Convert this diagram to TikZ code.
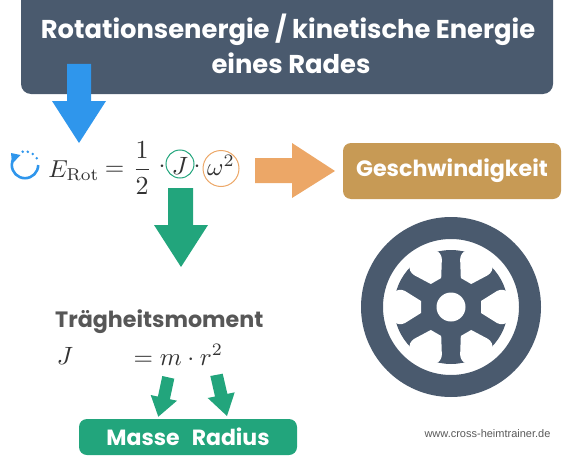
\documentclass[tikz,border=0pt]{standalone}
\usepackage{fontspec}
\newfontfamily\pop{Poppins}
\newfontfamily\webfont{Liberation Sans}
\definecolor{slate}{HTML}{4A5A6E}
\definecolor{skyb}{HTML}{2F96EC}
\definecolor{sand}{HTML}{ECA767}
\definecolor{tan}{HTML}{C79A55}
\definecolor{teal}{HTML}{22A57C}
\definecolor{ink}{HTML}{333333}
\tikzset{
  lab/.style={inner sep=0pt,font=\pop\bfseries},
  mathlab/.style={inner sep=0pt,text=ink,scale=2.5},
}
\begin{document}
\begin{tikzpicture}[x=1pt,y=-1pt]
\useasboundingbox (0,0) rectangle (570,460);
% title
\fill[slate,rounded corners=10pt] (21,-12) rectangle (553,94);
\node[lab,text=white,anchor=center,font=\pop\bfseries\fontsize{25.8}{33}\selectfont] (title1) at (288,30) {Rotationsenergie / kinetische Energie};
\node[lab,text=white,anchor=center,font=\pop\bfseries\fontsize{25.8}{33}\selectfont] (title2) at (291,63) {eines Rades};
% blue arrow
\fill[skyb] (67,64) -- (91,64) -- (91,101) -- (106,101) -- (79,143) -- (52,101) -- (67,101) -- cycle;
% rotation icon
\draw[skyb,line width=2.6pt] (38.2,165) arc[start angle=0,end angle=212,radius=13.2];
\fill[skyb] (11,153) -- (20.5,155) -- (12,164) -- cycle;
\foreach \a in {100,78,55,30}{\fill[skyb] ({25+13.5*cos(\a)},{165-13.5*sin(\a)}) circle[radius=1.4];}
% formula
\node[mathlab,scale=0.98,anchor=base west] (erot) at (48,177) {$E_{\mathrm{Rot}}$};
\node[mathlab,anchor=base] (eq) at (114.5,175) {$=$};
\node[mathlab,scale=1.04] (half) at (142,168) {$\displaystyle\frac{1}{2}$};
\node[mathlab] (d1) at (162,167) {$\cdot$};
\node[mathlab] (jj) at (180,166) {$J$};
\node[mathlab] (d2) at (197,167) {$\cdot$};
\node[mathlab] (om) at (221,165) {$\omega^2$};
\draw[teal,line width=1pt] (180,164) circle[radius=14];
\draw[sand,line width=1pt] (221,168.5) circle[radius=18];
% orange arrow
\fill[sand] (255,158) -- (292,158) -- (292,143) -- (335,171) -- (292,198) -- (292,183) -- (255,183) -- cycle;
% orange box
\node[fill=tan,rounded corners=8pt,minimum width=218pt,minimum height=56pt,inner sep=0pt,text=white,font=\pop\bfseries\fontsize{22.2}{26}\selectfont] (speed) at (452,171) {Geschwindigkeit};
% green arrow
\fill[teal] (168,188) -- (193,188) -- (193,225) -- (208,225) -- (181,267) -- (154,225) -- (168,225) -- cycle;
% wheel
\begin{scope}[shift={(451,307)}]
\fill[slate,even odd rule] (0,0) circle[radius=90] (0,0) circle[radius=68];
\fill[slate] (0,0) circle[radius=57];
\foreach \r in {0,60,...,300}{
  \fill[white,rotate=\r] (30,-6) -- (46,-16) .. controls (50,-18) and (54,-17.5) .. (56,-15) -- (62,-15) -- (62,15) -- (56,15) .. controls (54,17.5) and (50,18) .. (46,16) -- (30,6) -- cycle;
}
\fill[white] (0,0) circle[radius=14.5];
\end{scope}
% inertia
\node[lab,anchor=base west,text=black!66,font=\pop\bfseries\fontsize{22.2}{26}\selectfont] (tm) at (55,327) {Trägheitsmoment};
\node[mathlab,anchor=base] (j2) at (65,364) {$J$};
\node[mathlab,anchor=base west] (form) at (133,365) {$=m\cdot r^2$};
% small arrows
\fill[teal] (162.3,376) -- (174.3,378.7) -- (169.9,399.2) -- (177,400.7) -- (158.3,416.7) -- (150.7,395) -- (157.9,396.6) -- cycle;
\fill[teal] (210.3,376) -- (222.7,373.7) -- (227.4,393.9) -- (234.7,392.3) -- (227,416) -- (207.7,398) -- (215,396.5) -- cycle;
% green box
\node[fill=teal,rounded corners=8pt,minimum width=218pt,minimum height=36pt,inner sep=0pt] (boxgreen) at (188,437) {};
\node[lab,text=white,font=\pop\bfseries\fontsize{22}{26}\selectfont] (masse) at (188,436.5) {Masse\hspace{0.55em}Radius};
% web
\node[inner sep=0pt,text=black!65,font=\webfont\fontsize{11}{13}\selectfont] (web) at (487.5,434) {www.cross-heimtrainer.de};
\end{tikzpicture}
\end{document}
